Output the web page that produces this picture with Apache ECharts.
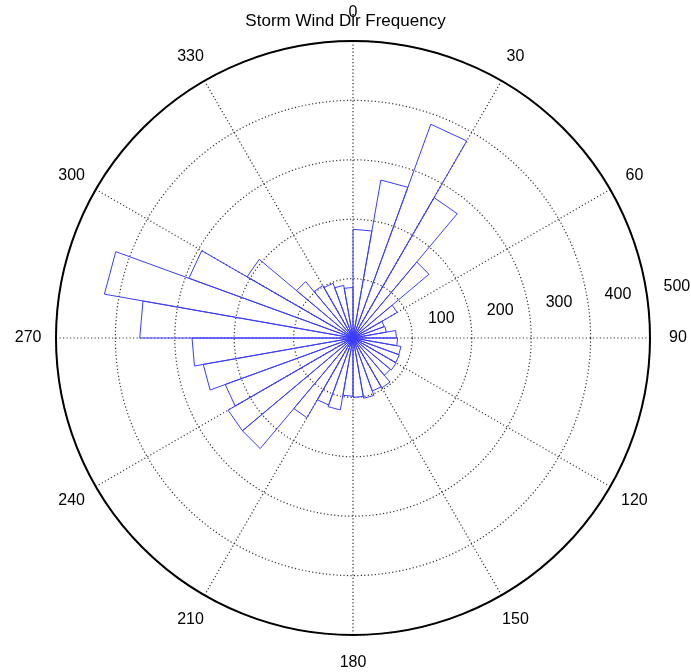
<!DOCTYPE html>
<html>
<head>
<meta charset="utf-8">
<script src="https://cdn.jsdelivr.net/npm/echarts@6/dist/echarts.min.js"></script>
<style>
  html, body { margin: 0; padding: 0; background: #ffffff; }
  #chart { width: 691px; height: 672px; }
</style>
</head>
<body>
<div id="chart"></div>
<script>
// Direction bins (compass degrees, clockwise from north), start/end of each 10-degree bin
const binStarts = [0, 10, 20, 30, 40, 50, 60, 70, 80, 90, 100, 110, 120, 130, 140, 150, 160, 170,
                   180, 190, 200, 210, 220, 230, 240, 250, 260, 270, 280, 290, 300, 310, 320, 330, 340, 350];
const binEnds   = [10, 20, 30, 40, 50, 60, 70, 80, 90, 100, 110, 120, 130, 140, 150, 160, 170, 180,
                   190, 200, 210, 220, 230, 240, 250, 260, 270, 280, 290, 300, 310, 320, 330, 340, 350, 360];
// Storm counts per bin
const counts = [183, 270, 383, 273, 167, 86, 56, 57, 73, 75, 82, 83, 84, 82, 97, 95, 103, 100,
                98, 123, 120, 155, 243, 243, 229, 256, 271, 359, 425, 294, 206, 124, 102, 98, 90, 85];
// Angle tick labels (compass degrees)
const angleLabels = [0, 30, 60, 90, 120, 150, 180, 210, 240, 270, 300, 330];
// Radial tick labels (first slot is the empty centre slot)
const radiusLabels = ['', '100', '200', '300', '400', '500'];
const titleText = 'Storm Wind Dir Frequency';

// Rose outline: centre -> corner -> corner -> centre for each bin
const roseData = [];
for (let i = 0; i < counts.length; i++) {
  roseData.push([0, binStarts[i]]);
  roseData.push([counts[i], binStarts[i]]);
  roseData.push([counts[i], binEnds[i]]);
  roseData.push([0, binEnds[i]]);
}

const CX = 353, CY = 338, R = 297;
const LABEL_R = 547;           // angle labels placed just outside the outer ring (axis units)
const FONT = 'Liberation Sans, Arial, Helvetica, sans-serif';
const dotted = { color: '#333', width: 1.2, type: [1.2, 2.3] };

const chart = echarts.init(document.getElementById('chart'), null, { renderer: 'canvas' });
chart.setOption({
  backgroundColor: '#ffffff',
  animation: false,
  title: {
    text: titleText,
    left: 'center',
    top: 13,
    padding: 0,
    textStyle: { fontFamily: FONT, fontSize: 17, fontWeight: 'normal', color: '#000' }
  },
  polar: [
    { center: [CX, CY], radius: R },
    { center: [CX, CY], radius: R * 6 / 5 }
  ],
  angleAxis: [
    {
      polarIndex: 0,
      type: 'value',
      min: 0, max: 360, interval: 30,
      startAngle: 90,
      clockwise: true,
      axisLine: { show: true, lineStyle: { color: '#000', width: 2 } },
      axisTick: { show: false },
      axisLabel: { show: false },
      splitLine: { show: true, lineStyle: dotted },
      z: 1
    },
    {
      polarIndex: 1,
      type: 'value',
      min: 0, max: 360,
      startAngle: 7.6,
      show: false
    }
  ],
  radiusAxis: [
    {
      polarIndex: 0,
      type: 'value',
      min: 0, max: 500, interval: 100,
      axisLine: { show: false },
      axisTick: { show: false },
      axisLabel: { show: false },
      splitLine: { show: true, lineStyle: dotted },
      z: 1
    },
    {
      polarIndex: 1,
      type: 'category',
      data: radiusLabels,
      boundaryGap: true,
      axisLine: { show: false },
      axisTick: { show: false },
      splitLine: { show: false },
      axisLabel: {
        show: true, margin: 0, interval: 0,
        align: 'center', verticalAlign: 'bottom',
        fontFamily: FONT, fontSize: 16, color: '#000'
      }
    }
  ],
  series: [
    {
      type: 'line',
      coordinateSystem: 'polar',
      polarIndex: 0,
      data: roseData,
      showSymbol: false,
      symbol: 'none',
      clip: false,
      lineStyle: { color: '#3c3cff', width: 1 },
      z: 5
    },
    {
      type: 'scatter',
      coordinateSystem: 'polar',
      polarIndex: 0,
      data: angleLabels.map(a => [LABEL_R, a]),
      symbolSize: 0,
      clip: false,
      silent: true,
      itemStyle: { opacity: 1 },
      label: {
        show: true,
        position: 'inside',
        formatter: p => String(p.value[1]),
        fontFamily: FONT, fontSize: 16, color: '#000', opacity: 1
      },
      z: 6
    }
  ]
});
</script>
</body>
</html>
